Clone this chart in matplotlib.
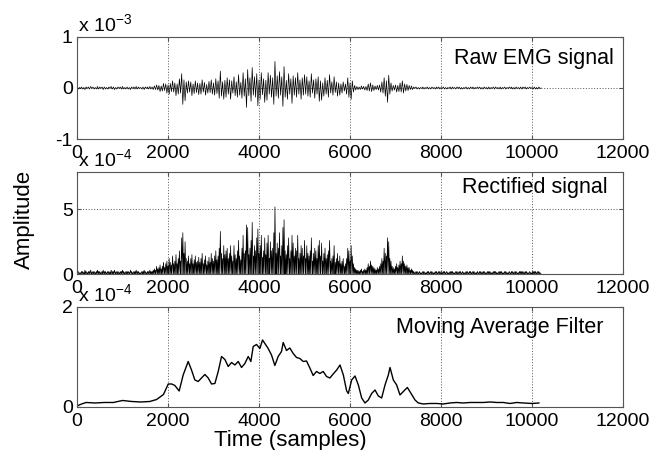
import numpy as np
import matplotlib
matplotlib.use("Agg")
import matplotlib.pyplot as plt

plt.rcParams["font.family"] = ["Liberation Sans", "DejaVu Sans"]
plt.rcParams["axes.unicode_minus"] = False
plt.rcParams["mathtext.fontset"] = "custom"
plt.rcParams["mathtext.rm"] = "Liberation Sans"
plt.rcParams["mathtext.default"] = "rm"

# raw EMG, one value every 25 samples (units of 1e-5 V)
STEP = 25
raw_quiet_start = [
    0, -2, 1, -1, 2, -2, 1, -3,
    2, -1, 2, -2, 3, -1, 2, -2,
    1, -2, 3, -2, 2, -1, 2, -3,
    2, -2, 1, -2, 2, -1, 3, -2,
    2, -3, 1, -2, 2, -1, 2, -2,
    3, -2, 1, -2, 2, -2, 1, -3,
    2, -1, 2, -2, 3, -2, 2, -1,
    1, -2, 2, -3, 2, -1, 2, -2,
    3, -2, 2, -3,
]
raw_burst = [
    4, -3, 6, -4, 5, -7, 4, -6,
    9, -5, 8, -10, 6, -12, 9, -7,
    14, -8, 10, -15, 8, -12, 18, -10,
    28, -32, 16, -25, 12, -10, 14, -8,
    12, -15, 8, -11, 14, -9, 10, -13,
    9, -12, 16, -8, 11, -14, 7, -10,
    13, -9, 16, -12, 10, -14, 18, -11,
    14, -20, 33, -16, 12, -22, 15, -18,
    20, -12, 16, -22, 14, -10, 22, -15,
    12, -18, 26, -14, 11, -20, 30, -16,
    18, -38, 36, -15, 20, -26, 40, -14,
    22, -18, 28, -35, 16, -22, 30, -13,
    18, -28, 15, -24, 30, -12, 25, -18,
    20, -32, 52, -16, 24, -20, 32, -14,
    22, -36, 42, -18, 15, -22, 28, -12,
    18, -30, 24, -14, 20, -18, 30, -12,
    16, -22, 20, -14, 26, -12, 22, -16,
    14, -18, 28, -10, 16, -20, 18, -12,
    22, -26, 14, -24, 10, -16, 20, -12,
    15, -18, 26, -10, 12, -14, 22, -9,
    12, -16, 10, -14, 8, -10, 12, -6,
    8, -12, 20, -18, 10, -22, 14, -8,
    5, -4, 3, -3, 2, -3, 4, -2,
    3, -4, 3, -5, 8, -6, 10, -7,
    6, -5, 4, -3, 5, -4, 6, -8,
    12, -10, 20, -16, 14, -28, 25, -12,
    10, -6, 5, -4, 6, -8, 5, -7,
    10, -8, 14, -10, 8, -6, 7, -5,
    5, -3, 4, -3,
]
raw_quiet_end = [
    2, -1, 2, -2, 1, -2, 1, -1,
    2, -2, 1, -1, 2, -2, 1, -2,
    2, -1, 1, -2, 2, -1, 2, -2,
    1, -1, 2, -2, 1, -2, 1, -1,
    2, -2, 2, -1, 1, -2, 2, -1,
    2, -2, 1, -2, 1, -1, 2, -2,
    1, -2, 2, -1, 2, -2, 1, -1,
    2, -1, 2, -2, 1, -2, 2, -1,
    1, -2, 2, -2, 1, -1, 2, -2,
    2, -1, 1, -2, 2, -2, 1, -1,
    2, -2, 1, -1, 2, -1, 2, -2,
    1, -2, 2, -1, 1, -2, 2, -2,
    2, -1, 2, -2, 1, -1, 2, -1,
    1, -2, 2, -2, 1, -2, 2, -1,
    0,
]

# moving average (units of 1e-4)
ma_x = [0, 100, 200, 400, 600, 800, 1000, 1200, 1400, 1600, 1750, 1900, 2005, 2080,
        2150, 2245, 2333, 2443, 2516, 2590, 2663, 2736, 2810, 2883, 2956, 3030, 3103,
        3176, 3250, 3323, 3396, 3470, 3543, 3616, 3689, 3763, 3821, 3872, 3945, 4019,
        4077, 4128, 4201, 4274, 4348, 4421, 4494, 4531, 4604, 4677, 4751, 4824, 4897,
        4971, 5044, 5117, 5190, 5264, 5337, 5410, 5484, 5557, 5630, 5707, 5780, 5853,
        5926, 5963, 6036, 6109, 6183, 6256, 6329, 6402, 6476, 6549, 6622, 6695, 6769,
        6842, 6879, 6952, 7025, 7098, 7172, 7260, 7355, 7428, 7501, 7611, 7758, 7904,
        8051, 8197, 8344, 8490, 8637, 8783, 8930, 9076, 9223, 9369, 9516, 9662, 9809,
        10000, 10150]
ma_y = [0.02, 0.06, 0.09, 0.08, 0.09, 0.09, 0.13, 0.11, 0.10, 0.11, 0.15, 0.25, 0.46,
        0.46, 0.43, 0.32, 0.64, 0.91, 0.74, 0.54, 0.51, 0.58, 0.65, 0.58, 0.46, 0.47,
        0.71, 1.01, 0.95, 0.81, 0.89, 0.84, 0.91, 0.79, 0.87, 1.01, 0.91, 1.21, 1.25,
        1.17, 1.34, 1.27, 1.17, 1.04, 0.83, 1.01, 1.11, 1.29, 1.13, 1.18, 1.07, 0.99,
        0.97, 0.91, 0.92, 0.78, 0.63, 0.71, 0.67, 0.71, 0.61, 0.58, 0.66, 0.74, 0.84,
        0.64, 0.32, 0.27, 0.54, 0.62, 0.44, 0.18, 0.08, 0.14, 0.27, 0.34, 0.22, 0.18,
        0.44, 0.64, 0.79, 0.54, 0.44, 0.24, 0.31, 0.39, 0.25, 0.14, 0.08, 0.06, 0.07,
        0.07, 0.06, 0.08, 0.09, 0.08, 0.09, 0.09, 0.09, 0.10, 0.09, 0.09, 0.07, 0.09,
        0.08, 0.07, 0.08]

xticks = [0, 2000, 4000, 6000, 8000, 10000, 12000]
titles = ["Raw EMG signal", "Rectified signal", "Moving Average Filter"]
exps = ["-3", "-4", "-4"]


def rectify(t, v):
    # |v|, keeping the zero crossings of the raw trace
    xs, ys = [], []
    for i in range(len(v)):
        xs.append(t[i]); ys.append(abs(v[i]))
        if i + 1 < len(v) and v[i] * v[i + 1] < 0:
            a, b = abs(v[i]), abs(v[i + 1])
            xs.append(t[i] + (t[i + 1] - t[i]) * a / (a + b)); ys.append(0.0)
    return np.array(xs), np.array(ys)


rv = np.array(raw_quiet_start + raw_burst + raw_quiet_end, dtype=float)
t = np.arange(len(rv)) * STEP
rx, ry = rectify(t, rv / 10.0)   # -> units of 1e-4

fig = plt.figure(figsize=(6.5, 4.5), dpi=100)
boxes = [[0.1185, 0.6911, 0.84, 0.2267],
         [0.1185, 0.3911, 0.84, 0.2267],
         [0.1185, 0.0956, 0.84, 0.2222]]
axes = [fig.add_axes(b) for b in boxes]

axes[0].plot(t, rv / 100.0, color="black", lw=0.5)
axes[0].set_ylim(-1, 1); axes[0].set_yticks([-1, 0, 1])
axes[1].plot(rx, ry, color="black", lw=0.5)
axes[1].set_ylim(0, 7.9); axes[1].set_yticks([0, 5])
axes[2].plot(ma_x, ma_y, color="black", lw=1.0)
axes[2].set_ylim(0, 2); axes[2].set_yticks([0, 2])

text_pos = [(0.983, 0.79), (0.971, 0.85), (0.965, 0.79)]
for ax, title, ex, (tx, ty) in zip(axes, titles, exps, text_pos):
    ax.set_xlim(0, 12000)
    ax.set_xticks(xticks)
    ax.grid(True, color="#222222", ls=(0, (1.5, 2.5)), lw=0.5)
    ax.tick_params(direction="in", length=3, labelsize=14, top=True, right=True,
                   color="#555555")
    ax.tick_params(axis="x", pad=4)
    ax.tick_params(axis="y", pad=3)
    for s in ax.spines.values():
        s.set_color("#555555"); s.set_linewidth(0.8)
    ax.text(tx, ty, title, transform=ax.transAxes, ha="right", va="center",
            fontsize=15.5)
    ax.text(0.002, 1.02, "x 10$^{%s}$" % ex, transform=ax.transAxes, ha="left",
            va="bottom", fontsize=14)

fig.text(0.038, 0.512, "Amplitude", rotation=90, ha="center", va="center", fontsize=16)
fig.text(0.446, 0.021, "Time (samples)", ha="center", va="center", fontsize=16)

fig.savefig("out.png", dpi=100)
